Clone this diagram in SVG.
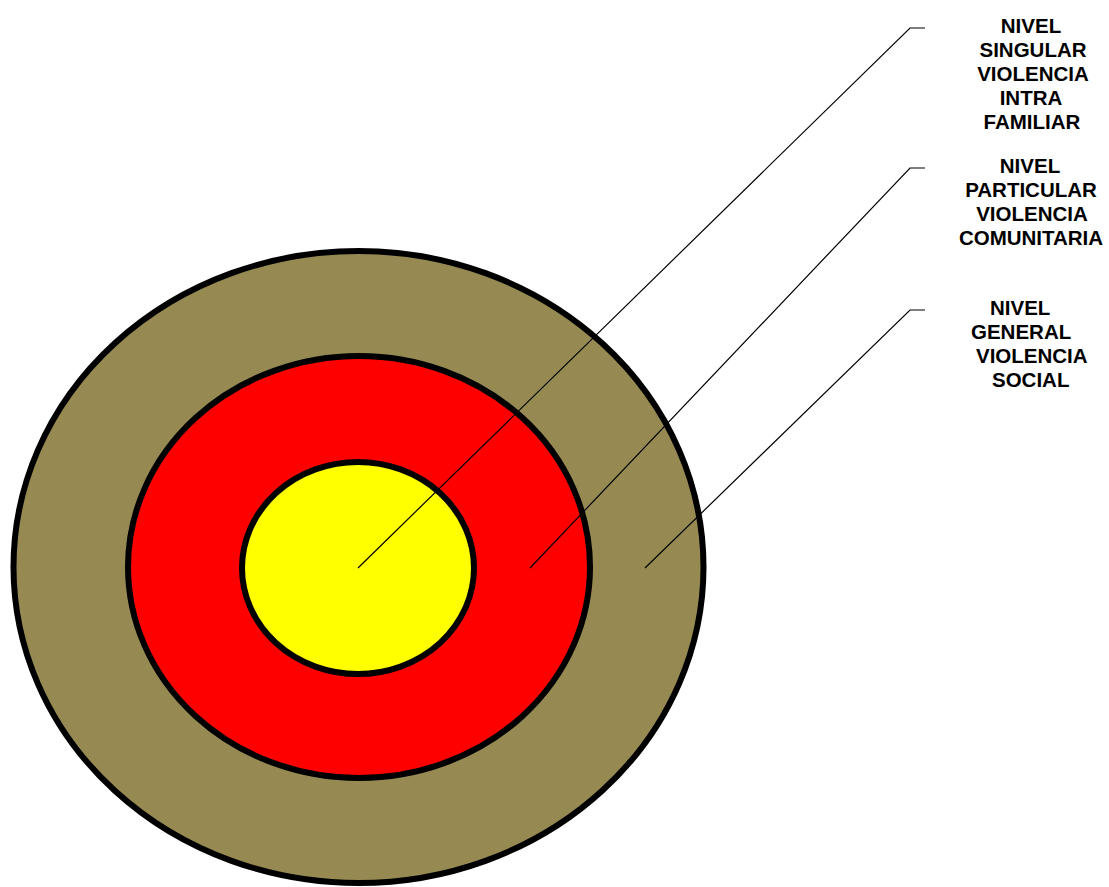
<svg xmlns="http://www.w3.org/2000/svg" width="1109" height="887" viewBox="0 0 1109 887">
<style>
.ring{stroke:#000;stroke-width:6}
.lbl{font-family:"Liberation Sans",Arial,sans-serif;font-weight:bold;font-size:20.5px;fill:#000}
.mid{text-anchor:middle}
.lead{fill:none;stroke:#000;stroke-width:1.2}
</style>
<rect width="1109" height="887" fill="#fff"/>
<g id="outer"><ellipse class="ring" cx="358.5" cy="567" rx="345" ry="316" fill="#968A52"/></g>
<g id="middle"><ellipse class="ring" cx="359" cy="567" rx="231" ry="211" fill="#FF0000"/></g>
<g id="inner"><ellipse class="ring" cx="358" cy="568" rx="116" ry="106" fill="#FFFF00"/></g>
<g id="connectors">
<polyline class="lead" points="358,568 910,28 925,28"/>
<polyline class="lead" points="530,568 910,168 925,168"/>
<polyline class="lead" points="645,568 910,310 925,310"/>
</g>
<g id="label-singular">
<text class="lbl mid" x="1031" y="33">NIVEL</text>
<text class="lbl mid" x="1033" y="57">SINGULAR</text>
<text class="lbl mid" x="1033" y="81">VIOLENCIA</text>
<text class="lbl mid" x="1031" y="105">INTRA</text>
<text class="lbl mid" x="1032" y="129">FAMILIAR</text>
</g>
<g id="label-particular">
<text class="lbl mid" x="1030" y="173">NIVEL</text>
<text class="lbl mid" x="1031" y="197">PARTICULAR</text>
<text class="lbl mid" x="1032" y="221">VIOLENCIA</text>
<text class="lbl mid" x="1031" y="245">COMUNITARIA</text>
</g>
<g id="label-general">
<text class="lbl" x="990" y="315">NIVEL</text>
<text class="lbl" x="971" y="339">GENERAL</text>
<text class="lbl" x="976" y="363">VIOLENCIA</text>
<text class="lbl" x="992" y="387">SOCIAL</text>
</g>
</svg>
